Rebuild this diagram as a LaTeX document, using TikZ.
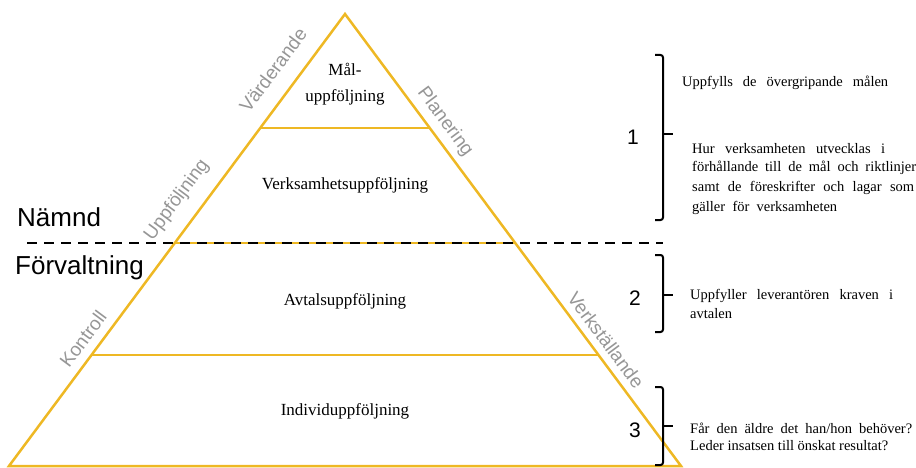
\documentclass[tikz,border=0pt]{standalone}
\usepackage{fontspec}
\setmainfont{Liberation Serif}
\newfontfamily\arialf{Liberation Sans}
\usetikzlibrary{calc}
\definecolor{pyr}{RGB}{238,184,36}
\definecolor{lbl}{RGB}{150,150,150}
\begin{document}
\begin{tikzpicture}[x=1pt,y=-1pt,
  pyrline/.style={draw=pyr,line width=2.5pt},
  level/.style={font=\fontsize{17}{20}\selectfont,inner sep=0pt,align=center},
  edgelbl/.style={text=lbl,font=\arialf\fontsize{19}{21}\selectfont,inner sep=0pt},
  side/.style={font=\arialf\fontsize{26}{28}\selectfont,inner sep=0pt,anchor=west},
  num/.style={font=\arialf\fontsize{21}{24}\selectfont,inner sep=0pt},
  note/.style={font=\fontsize{14.5}{18}\selectfont,inner sep=0pt,anchor=west},
  bracket/.style={draw=black,line width=2pt,rounded corners=2.5pt},
  divider/.style={draw=black,line width=2.5pt,dash pattern=on 10pt off 7pt},
]
\useasboundingbox (0,0) rectangle (916,468);
% pyramid
\coordinate (A) at (345,14);
\coordinate (BL) at (9,466);
\coordinate (BR) at (681,466);
\coordinate (L1) at ($(A)!0.2522!(BL)$);
\coordinate (R1) at ($(A)!0.2522!(BR)$);
\coordinate (L2) at ($(A)!0.5066!(BL)$);
\coordinate (R2) at ($(A)!0.5066!(BR)$);
\coordinate (L3) at ($(A)!0.7544!(BL)$);
\coordinate (R3) at ($(A)!0.7544!(BR)$);
\draw[pyrline,line join=miter] (A) -- (BR) -- (BL) -- cycle;
\draw[pyrline] (L1) -- (R1);
\draw[pyrline] (L2) -- (R2);
\draw[pyrline] (L3) -- (R3);
% dashed divider
\coordinate (D1) at (27,243);
\coordinate (D2) at (663,243);
\draw[divider] (D1) -- (D2);
% level labels
\node[level] (mal) at (345,84) {Mål-\\[6pt]uppföljning};
\node[level] (verk) at (345,185) {Verksamhetsuppföljning};
\node[level] (avtal) at (345,301) {Avtalsuppföljning};
\node[level] (indiv) at (345,411) {Individuppföljning};
% edge labels
\node[edgelbl,rotate=53.4] (varde) at (273,70) {Värderande};
\node[edgelbl,rotate=53.4] (uppf) at (177,200) {Uppföljning};
\node[edgelbl,rotate=53.4] (kontr) at (83,339) {Kontroll};
\node[edgelbl,rotate=-53.4] (plan) at (445,122) {Planering};
\node[edgelbl,rotate=-53.4] (verks) at (606,340) {Verkställande};
% side labels
\node[side] (namnd) at (17,217) {Nämnd};
\node[side] (forv) at (15,268) {Förvaltning};
% brackets
\draw[bracket] (655,55) -- (663,55) -- (663,220) -- (655,220);
\draw[bracket] (663,134) -- (673,134);
\draw[bracket] (655,255) -- (663,255) -- (663,332) -- (655,332);
\draw[bracket] (663,295) -- (673,295);
\draw[bracket] (655,387) -- (663,387) -- (663,465) -- (655,465);
\draw[bracket] (663,426) -- (673,426);
% numbers
\node[num] (n1) at (633,137) {1};
\node[num] (n2) at (635,298) {2};
\node[num] (n3) at (635,430) {3};
% notes
\node[note] (t1) at (682,83) {\makebox[206pt][s]{Uppfylls de övergripande målen}};
\node[note] (t2a) at (692,149) {\makebox[193pt][s]{Hur verksamheten utvecklas i}};
\node[note] (t2b) at (692,168) {\makebox[224pt][s]{förhållande till de mål och riktlinjer}};
\node[note] (t2c) at (692,188) {\makebox[222pt][s]{samt de föreskrifter och lagar som}};
\node[note] (t2d) at (692,208) {\makebox[145pt][s]{gäller för verksamheten}};
\node[note] (t3a) at (690,296) {\makebox[203pt][s]{Uppfyller leverantören kraven i}};
\node[note] (t3b) at (690,314) {avtalen};
\node[note] (t4a) at (690,428) {\makebox[222pt][s]{Får den äldre det han/hon behöver?}};
\node[note] (t4b) at (690,446) {Leder insatsen till önskat resultat?};
\end{tikzpicture}
\end{document}
